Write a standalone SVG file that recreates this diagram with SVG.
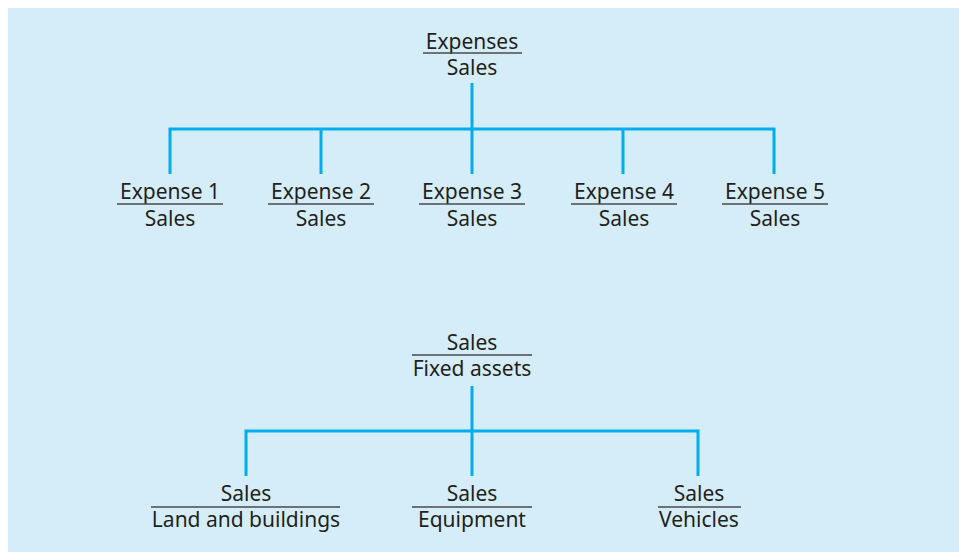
<svg xmlns="http://www.w3.org/2000/svg" width="959" height="552" viewBox="0 0 959 552">
<style>
text{font-family:"Noto Sans","Open Sans","Liberation Sans",sans-serif;font-size:21px;fill:#231f20;text-anchor:middle}
.bar{stroke:#4a4a4a;stroke-width:1.4;fill:none}
.conn{stroke:#00aeef;stroke-width:3;fill:none;stroke-linecap:butt;stroke-linejoin:miter}
</style>
<rect x="8" y="8" width="951" height="544" fill="#d5ecf9"/>
<g id="connectors">
<path class="conn" d="M472,83 V129 M170,174 V129 H774 V174 M321,129 V174 M472,129 V174 M623,129 V174"/>
<path class="conn" d="M472,386 V431 M246,476 V431 H698 V476 M472,431 V476"/>
</g>
<g id="expenses-sales">
<text x="472" y="49">Expenses</text>
<line class="bar" x1="423" y1="53" x2="522" y2="53"/>
<text x="472" y="75">Sales</text>
</g>
<g id="expense1">
<text x="170" y="199">Expense 1</text>
<line class="bar" x1="117" y1="204" x2="223" y2="204"/>
<text x="170" y="226">Sales</text>
</g>
<g id="expense2">
<text x="321" y="199">Expense 2</text>
<line class="bar" x1="268" y1="204" x2="374" y2="204"/>
<text x="321" y="226">Sales</text>
</g>
<g id="expense3">
<text x="472" y="199">Expense 3</text>
<line class="bar" x1="419" y1="204" x2="525" y2="204"/>
<text x="472" y="226">Sales</text>
</g>
<g id="expense4">
<text x="624" y="199">Expense 4</text>
<line class="bar" x1="571" y1="204" x2="677" y2="204"/>
<text x="624" y="226">Sales</text>
</g>
<g id="expense5">
<text x="775" y="199">Expense 5</text>
<line class="bar" x1="722" y1="204" x2="828" y2="204"/>
<text x="775" y="226">Sales</text>
</g>
<g id="sales-fixed-assets">
<text x="472" y="350">Sales</text>
<line class="bar" x1="412" y1="355" x2="532" y2="355"/>
<text x="472" y="376">Fixed assets</text>
</g>
<g id="land-buildings">
<text x="246" y="501">Sales</text>
<line class="bar" x1="151" y1="507" x2="340" y2="507"/>
<text x="246" y="527">Land and buildings</text>
</g>
<g id="equipment">
<text x="472" y="501">Sales</text>
<line class="bar" x1="412" y1="507" x2="532" y2="507"/>
<text x="472" y="527">Equipment</text>
</g>
<g id="vehicles">
<text x="699" y="501">Sales</text>
<line class="bar" x1="658" y1="507" x2="741" y2="507"/>
<text x="699" y="527">Vehicles</text>
</g>
</svg>
